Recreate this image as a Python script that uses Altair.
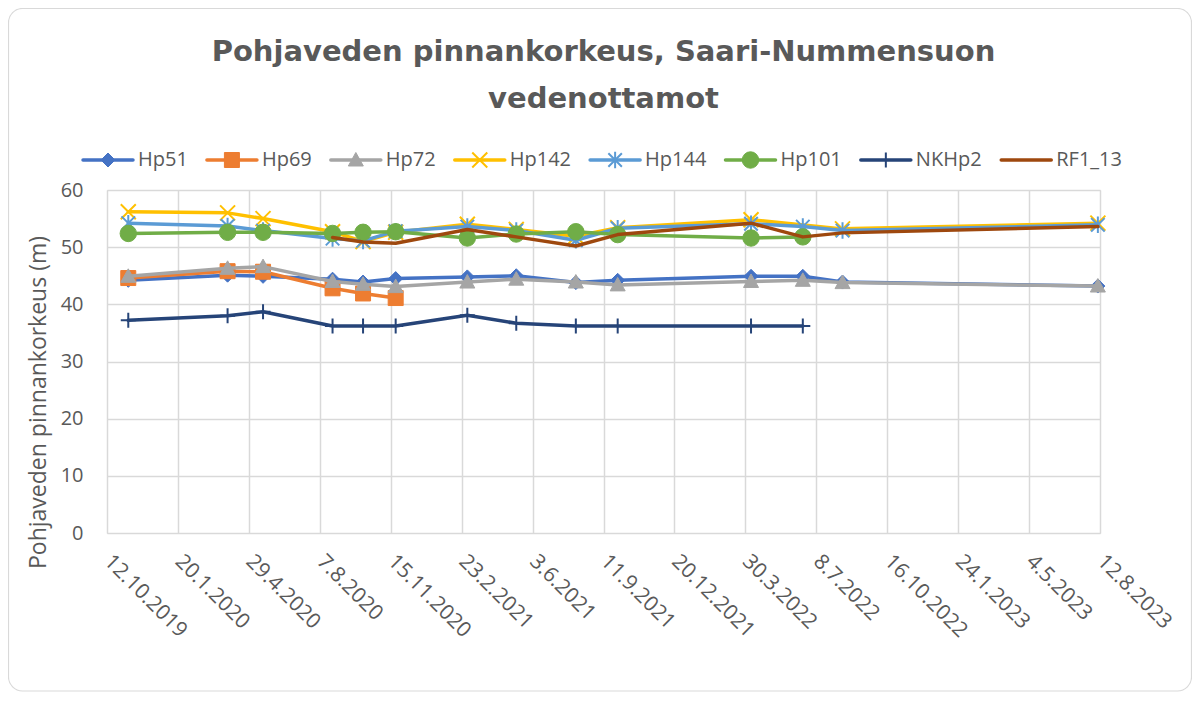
import altair as alt
import pandas as pd

# ---------------- data ----------------
dates = ["2019-11-11", "2020-03-30", "2020-05-19", "2020-08-25", "2020-10-07",
         "2020-11-22", "2021-03-03", "2021-05-11", "2021-08-03", "2021-10-01",
         "2022-04-07", "2022-06-19", "2022-08-14", "2023-08-09"]

series_names = ["Hp51", "Hp69", "Hp72", "Hp142", "Hp144", "Hp101", "NKHp2", "RF1_13"]

hp51 = [44.2, 45.1, 44.9, 44.4, 43.9, 44.5, 44.8, 45.0, 43.8, 44.2, 44.9, 44.9, 43.9, 43.2]
hp69 = [44.6, 45.8, 45.7, 42.8, 41.9, 41.1, None, None, None, None, None, None, None, None]
hp72 = [44.9, 46.3, 46.6, 44.0, 43.5, 43.1, 43.9, 44.4, 43.9, 43.4, 44.0, 44.2, 43.8, 43.2]
hp142 = [56.2, 56.0, 55.0, 52.7, 51.0, 52.6, 54.0, 53.1, 51.9, 53.4, 54.8, None, 53.2, 54.2]
hp144 = [54.2, 53.7, 52.9, 51.5, 51.1, 52.8, 53.6, 52.9, 51.2, 53.3, 54.1, 53.6, 52.9, 53.9]
hp101 = [52.4, 52.6, 52.6, 52.4, 52.6, 52.7, 51.6, 52.3, 52.7, 52.2, 51.6, 51.8, None, None]
nkhp2 = [37.2, 38.0, 38.7, 36.2, 36.2, 36.2, 38.1, 36.7, 36.2, 36.2, 36.2, 36.2, None, None]
rf1_13 = [None, None, None, 51.7, 50.9, 50.7, 53.1, 51.8, 50.2, 52.2, 54.2, 51.8, 52.5, 53.6]

tick_dates = ["2019-10-12", "2020-01-20", "2020-04-29", "2020-08-07", "2020-11-15",
              "2021-02-23", "2021-06-03", "2021-09-11", "2021-12-20", "2022-03-30",
              "2022-07-08", "2022-10-16", "2023-01-24", "2023-05-04", "2023-08-12"]
y_ticks = [0, 10, 20, 30, 40, 50, 60]

title_lines = ["Pohjaveden pinnankorkeus, Saari-Nummensuon", "vedenottamot"]
y_title = "Pohjaveden pinnankorkeus (m)"

values = {"Hp51": hp51, "Hp69": hp69, "Hp72": hp72, "Hp142": hp142,
          "Hp144": hp144, "Hp101": hp101, "NKHp2": nkhp2, "RF1_13": rf1_13}

rows = []
for name in series_names:
    for d, v in zip(dates, values[name]):
        if v is not None:
            rows.append({"series": name, "date": d, "value": v})
df = pd.DataFrame(rows)

# ---------------- styles ----------------
W, H = 993, 343
TEXT = "#595959"
GRID = "#D9D9D9"
FONT = "Open Sans"

X_PATH = "M-1,-1L1,1M-1,1L1,-1"
AST_PATH = "M-0.9,-0.9L0.9,0.9M-0.9,0.9L0.9,-0.9M0,-1.1L0,1.1"
PLUS_PATH = "M0,-1L0,1M-1,0L1,0"
TRI_PATH = "M0,-1L1,0.8L-1,0.8Z"

style = {
    "Hp51": dict(color="#4472C4", shape="diamond", size=196, filled=True),
    "Hp69": dict(color="#ED7D31", shape="square", size=225, filled=True),
    "Hp72": dict(color="#A5A5A5", shape=TRI_PATH, size=225, filled=True),
    "Hp142": dict(color="#FFC000", shape=X_PATH, size=225, filled=False),
    "Hp144": dict(color="#5B9BD5", shape=AST_PATH, size=225, filled=False),
    "Hp101": dict(color="#70AD47", shape="circle", size=270, filled=True),
    "NKHp2": dict(color="#264478", shape=PLUS_PATH, size=225, filled=False),
    "RF1_13": dict(color="#9E480E", shape=None, size=0, filled=False),
}


def marker_props(st):
    c = st["color"]
    if st["filled"]:
        return dict(shape=st["shape"], size=st["size"], filled=True, fill=c,
                    stroke=c, strokeWidth=1, opacity=1)
    return dict(shape=st["shape"], size=st["size"], filled=False, stroke=c,
                strokeWidth=2, opacity=1)


def dt(s):
    y, m, d = (int(p) for p in s.split("-"))
    return alt.DateTime(year=y, month=m, date=d, utc=True)


X = alt.X(
    "date:T", title=None,
    scale=alt.Scale(type="utc", domain=[dt(tick_dates[0]), dt(tick_dates[-1])]),
    axis=alt.Axis(values=[dt(s) for s in tick_dates], format="%-d.%-m.%Y",
                  labelAngle=45, labelAlign="left", labelBaseline="middle",
                  labelPadding=25, labelFontSize=21, labelColor=TEXT, labelFont=FONT,
                  labelOverlap=False, labelFlush=False, ticks=False, domain=False,
                  grid=True, gridColor=GRID, gridWidth=1.5),
)
Y = alt.Y(
    "value:Q", title=y_title,
    scale=alt.Scale(domain=[0, 60], nice=False),
    axis=alt.Axis(values=y_ticks, labelFontSize=20, labelColor=TEXT, labelFont=FONT,
                  labelPadding=24, ticks=False, domain=False, grid=True,
                  gridColor=GRID, gridWidth=1.5, titleFontSize=23, titleFont=FONT,
                  titleFontWeight="normal", titleColor=TEXT, titlePadding=10,
                  titleY=212),
)

main_layers = []
for name in series_names:
    st = style[name]
    kw = dict(color=st["color"], strokeWidth=3.5, strokeCap="round", strokeJoin="round")
    if st["shape"]:
        kw["point"] = alt.OverlayMarkDef(**marker_props(st))
    main_layers.append(
        alt.Chart(df).transform_filter(alt.datum.series == name)
        .mark_line(**kw).encode(x=X, y=Y)
    )

# ---------------- legend (laid out from label widths) ----------------
char_w = {"H": 0.739, "p": 0.613, "N": 0.766, "K": 0.63, "R": 0.644, "F": 0.539, "_": 0.452}


def text_w(s, fs=20):
    return sum(char_w.get(ch, 0.572) for ch in s) * fs


LEG_Y = -30
pos = -24.0
leg_rows = []
for name in series_names:
    leg_rows.append({"series": name, "lx": pos, "lx2": pos + 50,
                     "lmid": pos + 25, "ltext": pos + 55})
    pos += 55 + text_w(name) + 19
leg_df = pd.DataFrame(leg_rows)
LX = alt.Scale(domain=[0, W])

leg_layers = []
for name in series_names:
    st = style[name]
    sub = alt.Chart(leg_df).transform_filter(alt.datum.series == name)
    leg_layers.append(
        sub.mark_rule(color=st["color"], strokeWidth=3.5, strokeCap="round")
        .encode(x=alt.X("lx:Q", scale=LX, axis=None), x2="lx2:Q", y=alt.value(LEG_Y))
    )
    if st["shape"]:
        leg_layers.append(
            sub.mark_point(**marker_props(st))
            .encode(x=alt.X("lmid:Q", scale=LX, axis=None), y=alt.value(LEG_Y))
        )
    leg_layers.append(
        sub.mark_text(align="left", baseline="middle", font=FONT, fontSize=20, color=TEXT)
        .encode(x=alt.X("ltext:Q", scale=LX, axis=None), y=alt.value(LEG_Y), text="series:N")
    )

frame = alt.Chart(alt.Data(values=[{"k": 1}])).mark_rect(
    filled=False, color=GRID, strokeWidth=1.2, cornerRadius=14
).encode(x=alt.value(-98.5), x2=alt.value(1084.5), y=alt.value(-181.5), y2=alt.value(501))

chart = alt.layer(
    frame, alt.layer(*main_layers), alt.layer(*leg_layers)
).resolve_scale(x="independent").properties(
    width=W, height=H,
    title=alt.TitleParams(text=title_lines, font="DejaVu Sans", fontSize=29,
                          fontWeight="bold", color=TEXT, anchor="middle",
                          offset=-106, lineHeight=47),
    padding={"left": 99, "top": 182, "right": 92, "bottom": 165},
    autosize=alt.AutoSizeParams(type="none"),
).configure_view(stroke="transparent").configure(background="white")

chart.save("out.html", embed_options={"renderer": "svg", "actions": False})
